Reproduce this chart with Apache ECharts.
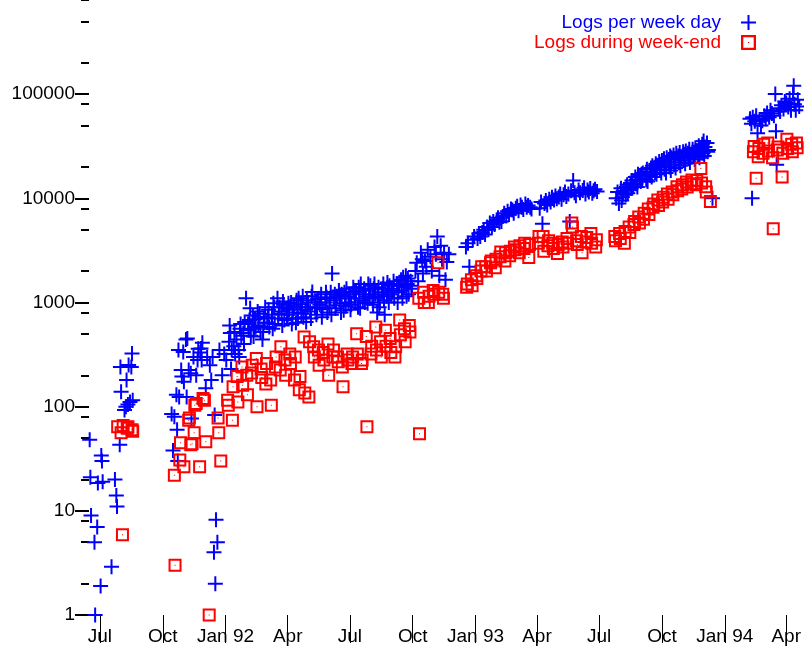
<!DOCTYPE html>
<html>
<head>
<meta charset="utf-8">
<script src="https://cdn.jsdelivr.net/npm/echarts@6/dist/echarts.min.js"></script>
<style>
  html, body { margin: 0; padding: 0; background: #fff; }
  #chart { width: 804px; height: 648px; }
</style>
</head>
<body>
<div id="chart"></div>
<script>
// daily log counts, [date, count]
const weekdayLogs = [
  ['1991-06-16', 48], ['1991-06-17', 21], ['1991-06-18', 9], ['1991-06-23', 5], ['1991-06-24', 1],
  ['1991-06-27', 7], ['1991-06-28', 18.5], ['1991-07-02', 1.9], ['1991-07-03', 34], ['1991-07-04', 30],
  ['1991-07-05', 19], ['1991-07-18', 2.9], ['1991-07-23', 20], ['1991-07-25', 14], ['1991-07-26', 11],
  ['1991-07-30', 43], ['1991-07-31', 240], ['1991-08-01', 139], ['1991-08-06', 93], ['1991-08-08', 100],
  ['1991-08-09', 180], ['1991-08-11', 105], ['1991-08-12', 251], ['1991-08-14', 111], ['1991-08-16', 240],
  ['1991-08-17', 324], ['1991-08-18', 115],

  ['1991-10-14', 85], ['1991-10-16', 38], ['1991-10-18', 80], ['1991-10-21', 130], ['1991-10-22', 60],
  ['1991-10-23', 30], ['1991-10-24', 350], ['1991-10-25', 124], ['1991-10-28', 225], ['1991-10-29', 195],
  ['1991-10-31', 335], ['1991-11-01', 173], ['1991-11-04', 440], ['1991-11-05', 124], ['1991-11-06', 452],
  ['1991-11-08', 225], ['1991-11-11', 209], ['1991-11-12', 77], ['1991-11-15', 300], ['1991-11-19', 200],
  ['1991-11-21', 280], ['1991-11-22', 360], ['1991-11-25', 330], ['1991-11-26', 362], ['1991-11-27', 280],
  ['1991-11-28', 410], ['1991-12-03', 150], ['1991-12-05', 300], ['1991-12-09', 250], ['1991-12-11', 180],
  ['1991-12-13', 300], ['1991-12-15', 4], ['1991-12-16', 83], ['1991-12-17', 2], ['1991-12-18', 8.2],
  ['1991-12-20', 5], ['1991-12-23', 350], ['1991-12-27', 200], ['1991-12-30', 320],

  ['1992-01-02', 280], ['1992-01-06', 420], ['1992-01-07', 600], ['1992-01-08', 510], ['1992-01-09', 230],
  ['1992-01-10', 350], ['1992-01-13', 380], ['1992-01-14', 520], ['1992-01-15', 320], ['1992-01-17', 440],
  ['1992-01-20', 350], ['1992-01-21', 300], ['1992-01-22', 560], ['1992-01-23', 620], ['1992-01-24', 480],
  ['1992-01-27', 510], ['1992-01-28', 400], ['1992-01-29', 650], ['1992-01-31', 1100],
  ['1992-02-03', 620], ['1992-02-04', 540], ['1992-02-05', 680], ['1992-02-06', 880], ['1992-02-07', 480],
  ['1992-02-10', 750], ['1992-02-11', 470], ['1992-02-12', 560], ['1992-02-13', 690], ['1992-02-14', 580],
  ['1992-02-17', 820], ['1992-02-18', 600], ['1992-02-19', 730], ['1992-02-20', 780], ['1992-02-21', 520],
  ['1992-02-24', 440], ['1992-02-25', 520], ['1992-02-26', 700], ['1992-02-27', 640], ['1992-02-28', 900],
  ['1992-03-02', 640], ['1992-03-03', 720], ['1992-03-04', 850], ['1992-03-05', 580], ['1992-03-09', 760],
  ['1992-03-10', 560], ['1992-03-11', 980], ['1992-03-12', 900], ['1992-03-13', 620], ['1992-03-17', 1100],
  ['1992-03-18', 700], ['1992-03-19', 780], ['1992-03-20', 900], ['1992-03-23', 820], ['1992-03-24', 600],
  ['1992-03-25', 1020], ['1992-03-26', 950], ['1992-03-27', 680], ['1992-03-30', 880], ['1992-03-31', 700],
  ['1992-04-01', 760], ['1992-04-02', 980], ['1992-04-03', 850], ['1992-04-06', 1000], ['1992-04-07', 620],
  ['1992-04-08', 700], ['1992-04-09', 860], ['1992-04-10', 920], ['1992-04-13', 640], ['1992-04-14', 1050],
  ['1992-04-15', 800], ['1992-04-16', 700], ['1992-04-17', 1100], ['1992-04-20', 960], ['1992-04-21', 780],
  ['1992-04-22', 900], ['1992-04-23', 1150], ['1992-04-24', 720], ['1992-04-27', 850], ['1992-04-28', 650],
  ['1992-04-29', 1050], ['1992-04-30', 900],
  ['1992-05-01', 1000], ['1992-05-04', 820], ['1992-05-05', 700], ['1992-05-06', 1150], ['1992-05-07', 1260],
  ['1992-05-11', 900], ['1992-05-12', 1000], ['1992-05-13', 760], ['1992-05-14', 880], ['1992-05-15', 1080],
  ['1992-05-18', 950], ['1992-05-19', 1100], ['1992-05-20', 1200], ['1992-05-21', 720], ['1992-05-22', 860],
  ['1992-05-26', 1000], ['1992-05-27', 1250], ['1992-05-28', 1120], ['1992-05-29', 800],
  ['1992-06-01', 900], ['1992-06-02', 1100], ['1992-06-03', 1250], ['1992-06-04', 760], ['1992-06-05', 1900],
  ['1992-06-08', 1050], ['1992-06-09', 1200], ['1992-06-10', 880], ['1992-06-11', 940], ['1992-06-12', 1150],
  ['1992-06-15', 1300], ['1992-06-16', 1150], ['1992-06-17', 980], ['1992-06-18', 800], ['1992-06-19', 1200],
  ['1992-06-22', 840], ['1992-06-23', 1250], ['1992-06-24', 1100], ['1992-06-25', 920], ['1992-06-26', 1350],
  ['1992-06-29', 1000], ['1992-06-30', 1150],
  ['1992-07-01', 1200], ['1992-07-02', 850], ['1992-07-03', 950], ['1992-07-06', 1400], ['1992-07-07', 1250],
  ['1992-07-08', 1100], ['1992-07-09', 1000], ['1992-07-10', 1300], ['1992-07-13', 900], ['1992-07-14', 1400],
  ['1992-07-15', 1250], ['1992-07-16', 880], ['1992-07-17', 1500], ['1992-07-20', 1050], ['1992-07-21', 1200],
  ['1992-07-22', 1350], ['1992-07-23', 1000], ['1992-07-24', 1150], ['1992-07-27', 980], ['1992-07-28', 1500],
  ['1992-07-29', 1300], ['1992-07-30', 1100], ['1992-07-31', 1450],
  ['1992-08-03', 1100], ['1992-08-04', 950], ['1992-08-05', 1350], ['1992-08-06', 1500], ['1992-08-07', 1200],
  ['1992-08-10', 800], ['1992-08-11', 1150], ['1992-08-12', 1400], ['1992-08-13', 900], ['1992-08-14', 1000],
  ['1992-08-17', 1250], ['1992-08-18', 1350], ['1992-08-19', 1500], ['1992-08-20', 1050], ['1992-08-21', 760],
  ['1992-08-24', 1150], ['1992-08-25', 1550], ['1992-08-26', 1300], ['1992-08-27', 1000], ['1992-08-28', 1450],
  ['1992-08-31', 1200],
  ['1992-09-01', 1250], ['1992-09-02', 1350], ['1992-09-03', 1600], ['1992-09-04', 1100], ['1992-09-08', 1500],
  ['1992-09-09', 1000], ['1992-09-10', 1250], ['1992-09-11', 1450], ['1992-09-14', 1650], ['1992-09-15', 1300],
  ['1992-09-16', 1100], ['1992-09-17', 1750], ['1992-09-18', 1400], ['1992-09-21', 1800], ['1992-09-22', 1150],
  ['1992-09-23', 1500], ['1992-09-24', 1700], ['1992-09-25', 1200], ['1992-09-28', 1600], ['1992-09-29', 1450],
  ['1992-09-30', 1350],

  ['1992-10-05', 2000], ['1992-10-07', 2400], ['1992-10-09', 1600], ['1992-10-13', 3000], ['1992-10-15', 2600],
  ['1992-10-16', 1900], ['1992-10-19', 2500], ['1992-10-21', 2200], ['1992-10-23', 3200], ['1992-10-27', 2750],
  ['1992-10-29', 2000], ['1992-11-02', 3400], ['1992-11-04', 2900], ['1992-11-06', 4300], ['1992-11-09', 1800],
  ['1992-11-11', 3500], ['1992-11-13', 2600], ['1992-11-16', 3000], ['1992-11-18', 1650], ['1992-11-20', 2450],
  ['1992-11-23', 2900],

  ['1992-12-18', 3400], ['1992-12-21', 3700], ['1992-12-23', 2200], ['1992-12-28', 4000], ['1992-12-30', 4300],
  ['1993-01-04', 4100], ['1993-01-06', 4600], ['1993-01-08', 4300], ['1993-01-11', 4700], ['1993-01-13', 5000],
  ['1993-01-15', 4500], ['1993-01-18', 5300], ['1993-01-20', 5000], ['1993-01-22', 5800], ['1993-01-25', 5300],
  ['1993-01-27', 6000], ['1993-01-29', 5600], ['1993-02-01', 6200], ['1993-02-03', 6500], ['1993-02-05', 5900],
  ['1993-02-08', 6000], ['1993-02-10', 6700], ['1993-02-12', 7200], ['1993-02-15', 6800], ['1993-02-17', 7500],
  ['1993-02-19', 7000], ['1993-02-22', 7900], ['1993-02-24', 7700], ['1993-02-26', 7200], ['1993-03-01', 8000],
  ['1993-03-03', 8400], ['1993-03-05', 7600], ['1993-03-08', 8600], ['1993-03-10', 8200], ['1993-03-12', 7800],
  ['1993-03-15', 8800], ['1993-03-17', 8200], ['1993-03-19', 8500], ['1993-03-22', 8200], ['1993-03-24', 7900],

  ['1993-04-05', 8000], ['1993-04-07', 9200], ['1993-04-09', 5700], ['1993-04-12', 8900], ['1993-04-14', 9500],
  ['1993-04-16', 8600], ['1993-04-19', 9800], ['1993-04-21', 9200], ['1993-04-23', 10200], ['1993-04-26', 9600],
  ['1993-04-28', 10500], ['1993-04-30', 9900], ['1993-05-03', 10300], ['1993-05-05', 11000], ['1993-05-07', 9800],
  ['1993-05-10', 10800], ['1993-05-12', 11500], ['1993-05-14', 10400], ['1993-05-17', 11000], ['1993-05-19', 6000],
  ['1993-05-21', 11800], ['1993-05-24', 14800], ['1993-05-26', 11300], ['1993-05-28', 10600], ['1993-06-01', 12000],
  ['1993-06-03', 11300], ['1993-06-07', 11900], ['1993-06-09', 12600], ['1993-06-11', 11000], ['1993-06-14', 12000],
  ['1993-06-16', 11500], ['1993-06-18', 12400], ['1993-06-21', 11200], ['1993-06-23', 11800], ['1993-06-25', 12200],
  ['1993-06-28', 11600],

  ['1993-07-26', 10000], ['1993-07-28', 11500], ['1993-07-30', 8900], ['1993-08-02', 12500], ['1993-08-03', 9500],
  ['1993-08-04', 10200], ['1993-08-05', 11000], ['1993-08-06', 11800], ['1993-08-09', 10800], ['1993-08-10', 12800],
  ['1993-08-11', 13500], ['1993-08-12', 11200], ['1993-08-13', 12000], ['1993-08-16', 14000], ['1993-08-17', 12500],
  ['1993-08-18', 14800], ['1993-08-19', 13500], ['1993-08-20', 13000], ['1993-08-23', 16000], ['1993-08-24', 13800],
  ['1993-08-25', 15000], ['1993-08-26', 12800], ['1993-08-27', 17000], ['1993-08-30', 16500], ['1993-08-31', 14500],
  ['1993-09-01', 17000], ['1993-09-02', 15500], ['1993-09-03', 17500], ['1993-09-07', 16500], ['1993-09-08', 15000],
  ['1993-09-09', 19000], ['1993-09-10', 14500], ['1993-09-13', 18000], ['1993-09-14', 16500], ['1993-09-15', 19500],
  ['1993-09-16', 16000], ['1993-09-17', 20500], ['1993-09-20', 19500], ['1993-09-21', 17500], ['1993-09-22', 21500],
  ['1993-09-23', 17000], ['1993-09-24', 20500], ['1993-09-27', 22500], ['1993-09-28', 18500], ['1993-09-29', 21000],
  ['1993-09-30', 17500], ['1993-10-01', 23000], ['1993-10-04', 24000], ['1993-10-05', 19000], ['1993-10-06', 22000],
  ['1993-10-07', 17500], ['1993-10-08', 24500], ['1993-10-11', 23500], ['1993-10-12', 20000], ['1993-10-13', 25500],
  ['1993-10-14', 18500], ['1993-10-15', 24500], ['1993-10-18', 26000], ['1993-10-19', 21000], ['1993-10-20', 24000],
  ['1993-10-21', 19500], ['1993-10-22', 27000], ['1993-10-25', 25500], ['1993-10-26', 22000], ['1993-10-27', 27500],
  ['1993-10-28', 20500], ['1993-10-29', 25000], ['1993-11-01', 28000], ['1993-11-02', 23000], ['1993-11-03', 26500],
  ['1993-11-04', 21500], ['1993-11-05', 28500], ['1993-11-08', 27000], ['1993-11-09', 24000], ['1993-11-10', 29500],
  ['1993-11-11', 22000], ['1993-11-12', 26000], ['1993-11-15', 29500], ['1993-11-16', 25000], ['1993-11-17', 27500],
  ['1993-11-18', 23500], ['1993-11-19', 30500], ['1993-11-22', 28500], ['1993-11-23', 26000], ['1993-11-24', 32000],
  ['1993-11-25', 24500], ['1993-11-26', 29500], ['1993-11-29', 33000], ['1993-11-30', 27000], ['1993-12-01', 35500],
  ['1993-12-02', 25500], ['1993-12-03', 31000], ['1993-12-06', 34000], ['1993-12-07', 28000], ['1993-12-08', 29000],
  ['1993-12-14', 10000],

  ['1994-02-07', 58000], ['1994-02-09', 52000], ['1994-02-10', 10000], ['1994-02-11', 60000], ['1994-02-14', 55000],
  ['1994-02-16', 62000], ['1994-02-18', 42000], ['1994-02-21', 57000], ['1994-02-23', 50000], ['1994-02-25', 55600],
  ['1994-02-28', 62000], ['1994-03-02', 58000], ['1994-03-04', 66000], ['1994-03-07', 60000], ['1994-03-09', 70000],
  ['1994-03-11', 65000], ['1994-03-14', 62000], ['1994-03-16', 100000], ['1994-03-17', 44000], ['1994-03-18', 21000],
  ['1994-03-21', 73000], ['1994-03-23', 68000], ['1994-03-25', 78000], ['1994-03-28', 72000], ['1994-03-30', 85000],
  ['1994-04-01', 82000], ['1994-04-04', 75000], ['1994-04-06', 90000], ['1994-04-08', 70000], ['1994-04-11', 100000],
  ['1994-04-12', 120000], ['1994-04-13', 80000], ['1994-04-15', 70000], ['1994-04-18', 88000], ['1994-04-20', 76000]
]

const weekendLogs = [
  ['1991-07-27', 64], ['1991-08-01', 56], ['1991-08-03', 5.9], ['1991-08-04', 66], ['1991-08-10', 62],
  ['1991-08-11', 64], ['1991-08-17', 60], ['1991-08-18', 58],

  ['1991-10-18', 22], ['1991-10-19', 3], ['1991-10-26', 30.7], ['1991-10-27', 45], ['1991-11-01', 26.5],
  ['1991-11-08', 74], ['1991-11-09', 78], ['1991-11-11', 43], ['1991-11-13', 44], ['1991-11-16', 56],
  ['1991-11-17', 103], ['1991-11-19', 107], ['1991-11-24', 26.5], ['1991-11-29', 120], ['1991-12-01', 115],
  ['1991-12-03', 46], ['1991-12-08', 1], ['1991-12-21', 78], ['1991-12-22', 56], ['1991-12-25', 30],

  ['1992-01-04', 115], ['1992-01-05', 103], ['1992-01-11', 74], ['1992-01-12', 155], ['1992-01-18', 195],
  ['1992-01-19', 111], ['1992-01-25', 240], ['1992-01-26', 160], ['1992-02-01', 200], ['1992-02-02', 130],
  ['1992-02-08', 210], ['1992-02-09', 250], ['1992-02-15', 290], ['1992-02-16', 100], ['1992-02-22', 230],
  ['1992-02-23', 190], ['1992-02-29', 165], ['1992-03-01', 260], ['1992-03-07', 180], ['1992-03-08', 103],
  ['1992-03-14', 240], ['1992-03-15', 300], ['1992-03-21', 225], ['1992-03-22', 375], ['1992-03-28', 280],
  ['1992-03-29', 200], ['1992-04-04', 320], ['1992-04-05', 260], ['1992-04-11', 180], ['1992-04-12', 300],
  ['1992-04-18', 145], ['1992-04-19', 195], ['1992-04-25', 465], ['1992-04-26', 135], ['1992-05-02', 124],
  ['1992-05-03', 420], ['1992-05-09', 375], ['1992-05-10', 300], ['1992-05-16', 350], ['1992-05-17', 250],
  ['1992-05-23', 330], ['1992-05-24', 280], ['1992-05-30', 400], ['1992-05-31', 200], ['1992-06-06', 300],
  ['1992-06-07', 350], ['1992-06-13', 300], ['1992-06-14', 270], ['1992-06-20', 240], ['1992-06-21', 155],
  ['1992-06-27', 320], ['1992-06-28', 280], ['1992-07-04', 260], ['1992-07-05', 300], ['1992-07-11', 500],
  ['1992-07-12', 320], ['1992-07-18', 260], ['1992-07-19', 280], ['1992-07-25', 470], ['1992-07-26', 64],
  ['1992-08-01', 320], ['1992-08-02', 380], ['1992-08-08', 580], ['1992-08-09', 350], ['1992-08-15', 420],
  ['1992-08-16', 300], ['1992-08-22', 540], ['1992-08-23', 380], ['1992-08-29', 450], ['1992-08-30', 330],
  ['1992-09-05', 300], ['1992-09-06', 375], ['1992-09-12', 680], ['1992-09-13', 490], ['1992-09-19', 560],
  ['1992-09-20', 420], ['1992-09-26', 600], ['1992-09-27', 520],

  ['1992-10-10', 1100], ['1992-10-11', 55], ['1992-10-17', 1250], ['1992-10-18', 1000], ['1992-10-24', 1000],
  ['1992-10-25', 1150], ['1992-10-31', 1300], ['1992-11-01', 1200], ['1992-11-07', 2400], ['1992-11-08', 1250],
  ['1992-11-14', 1200], ['1992-11-15', 1100],

  ['1992-12-19', 1400], ['1992-12-20', 1500], ['1992-12-26', 1650], ['1992-12-27', 1450], ['1993-01-02', 1800],
  ['1993-01-03', 1700], ['1993-01-09', 2000], ['1993-01-10', 2200], ['1993-01-16', 2200], ['1993-01-17', 2000],
  ['1993-01-23', 2400], ['1993-01-24', 2500], ['1993-01-30', 2150], ['1993-01-31', 2600], ['1993-02-06', 2750],
  ['1993-02-07', 3050], ['1993-02-13', 2500], ['1993-02-14', 3000], ['1993-02-20', 2800], ['1993-02-21', 3100],
  ['1993-02-27', 3400], ['1993-02-28', 3200], ['1993-03-06', 3000], ['1993-03-07', 3500], ['1993-03-13', 3300],
  ['1993-03-14', 3700], ['1993-03-20', 2700], ['1993-03-21', 3600],

  ['1993-04-03', 3700], ['1993-04-04', 4300], ['1993-04-10', 4300], ['1993-04-11', 3100], ['1993-04-17', 3500],
  ['1993-04-18', 3900], ['1993-04-24', 3700], ['1993-04-25', 3300], ['1993-05-01', 2950], ['1993-05-02', 3600],
  ['1993-05-08', 3800], ['1993-05-09', 3400], ['1993-05-15', 4100], ['1993-05-16', 3700], ['1993-05-22', 5800],
  ['1993-05-23', 5300], ['1993-05-29', 3900], ['1993-05-30', 3600], ['1993-06-05', 4300], ['1993-06-06', 3000],
  ['1993-06-12', 3800], ['1993-06-13', 4200], ['1993-06-19', 4600], ['1993-06-20', 3700], ['1993-06-26', 3400],
  ['1993-06-27', 4000],

  ['1993-07-24', 4300], ['1993-07-25', 3900], ['1993-07-31', 4600], ['1993-08-01', 4100], ['1993-08-07', 3700],
  ['1993-08-08', 4800], ['1993-08-14', 5300], ['1993-08-15', 4700], ['1993-08-21', 5600], ['1993-08-22', 6000],
  ['1993-08-28', 6600], ['1993-08-29', 5800], ['1993-09-04', 6300], ['1993-09-05', 7200], ['1993-09-11', 7900],
  ['1993-09-12', 7000], ['1993-09-18', 8200], ['1993-09-19', 8800], ['1993-09-25', 9600], ['1993-09-26', 8500],
  ['1993-10-02', 9200], ['1993-10-03', 10200], ['1993-10-09', 11000], ['1993-10-10', 9800], ['1993-10-16', 11500],
  ['1993-10-17', 10800], ['1993-10-23', 12900], ['1993-10-24', 11800], ['1993-10-30', 12300], ['1993-10-31', 13500],
  ['1993-11-06', 14300], ['1993-11-07', 12800], ['1993-11-13', 13800], ['1993-11-14', 15000], ['1993-11-20', 13500],
  ['1993-11-21', 14800], ['1993-11-27', 19300], ['1993-11-28', 14000], ['1993-12-04', 12900], ['1993-12-05', 11500],
  ['1993-12-11', 9300],

  ['1994-02-12', 28000], ['1994-02-13', 31400], ['1994-02-16', 15600], ['1994-02-19', 25000], ['1994-02-20', 30000],
  ['1994-02-26', 27000], ['1994-02-27', 33000], ['1994-03-05', 34000], ['1994-03-06', 28500], ['1994-03-12', 24500],
  ['1994-03-13', 5100], ['1994-03-19', 29000], ['1994-03-20', 31000], ['1994-03-26', 16000], ['1994-03-27', 27000],
  ['1994-04-02', 36800], ['1994-04-03', 30000], ['1994-04-09', 33000], ['1994-04-10', 28000], ['1994-04-16', 34000],
  ['1994-04-17', 30500]
]

const monthTicks = ['1991-07-01', '1991-10-01', '1992-01-01', '1992-04-01', '1992-07-01', '1992-10-01',
  '1993-01-01', '1993-04-01', '1993-07-01', '1993-10-01', '1994-01-01', '1994-04-01']
const monthLabels = ['Jul', 'Oct', 'Jan 92', 'Apr', 'Jul', 'Oct', 'Jan 93', 'Apr', 'Jul', 'Oct', 'Jan 94', 'Apr']

const decadeTicks = [1, 10, 100, 1000, 10000, 100000]
const minorTicks = [2, 5, 8, 20, 50, 80, 200, 500, 800, 2000, 5000, 8000,
  20000, 50000, 80000, 200000, 500000, 800000]

const FONT = '"Liberation Sans", Arial, sans-serif'

// plus and dotted-square marks, filled so lines stay crisp
const plusPath = 'path://M6.5,0L8.5,0L8.5,6.5L15,6.5L15,8.5L8.5,8.5L8.5,15L6.5,15L6.5,8.5L0,8.5L0,6.5L6.5,6.5Z'
const boxPath = 'path://M0,0L13,0L13,13L0,13Z M2,2L2,11L11,11L11,2Z M6,6L7,6L7,7L6,7Z'

const toTime = d => echarts.number.parseDate(d).getTime()
const tickTime = monthTicks.map(toTime)
const asPoints = rows => rows.map(r => [toTime(r[0]), r[1]])

const chart = echarts.init(document.getElementById('chart'))

chart.setOption({
  animation: false,
  backgroundColor: '#fff',
  grid: { left: 89, right: 0, top: 0, bottom: 33 },
  legend: {
    orient: 'vertical',
    right: 43,
    top: 8,
    align: 'right',
    itemWidth: 15,
    itemHeight: 15,
    itemGap: 1,
    selectedMode: false,
    textStyle: { fontFamily: FONT, fontSize: 19, lineHeight: 16, padding: [0, 15, 0, 0] },
    data: [
      { name: 'Logs per week day', textStyle: { color: '#0000ff' } },
      { name: 'Logs during week-end', textStyle: { color: '#ff0000' } }
    ]
  },
  xAxis: {
    type: 'value',
    min: toTime('1991-06-15'),
    max: toTime('1994-04-27'),
    axisLine: { show: false },
    splitLine: { show: false },
    axisTick: {
      customValues: tickTime,
      length: 28,
      lineStyle: { color: '#000', width: 1 }
    },
    axisLabel: {
      customValues: tickTime,
      margin: 12,
      color: '#000',
      fontFamily: FONT,
      fontSize: 19,
      formatter: function (value) {
        const i = tickTime.indexOf(value)
        return i >= 0 ? monthLabels[i] : ''
      }
    }
  },
  yAxis: [
    {
      type: 'log',
      logBase: 10,
      min: 1,
      max: 800000,
      axisLine: { show: false },
      splitLine: { show: false },
      axisTick: {
        customValues: decadeTicks,
        length: 14,
        lineStyle: { color: '#000', width: 2 }
      },
      axisLabel: {
        customValues: decadeTicks,
        margin: 14,
        color: '#000',
        fontFamily: FONT,
        fontSize: 19,
        formatter: v => String(v)
      }
    },
    {
      type: 'log',
      logBase: 10,
      min: 1,
      max: 800000,
      position: 'left',
      axisLine: { show: false },
      splitLine: { show: false },
      axisTick: {
        customValues: minorTicks,
        length: 8,
        lineStyle: { color: '#000', width: 2 }
      },
      axisLabel: { show: false }
    }
  ],
  series: [
    {
      name: 'Logs per week day',
      type: 'scatter',
      data: asPoints(weekdayLogs),
      symbol: plusPath,
      symbolSize: 15,
      itemStyle: { color: '#0000ff', opacity: 1 }
    },
    {
      name: 'Logs during week-end',
      type: 'scatter',
      data: asPoints(weekendLogs),
      symbol: boxPath,
      symbolSize: 13,
      itemStyle: { color: '#ff0000', opacity: 1 }
    }
  ]
})
</script>
</body>
</html>
